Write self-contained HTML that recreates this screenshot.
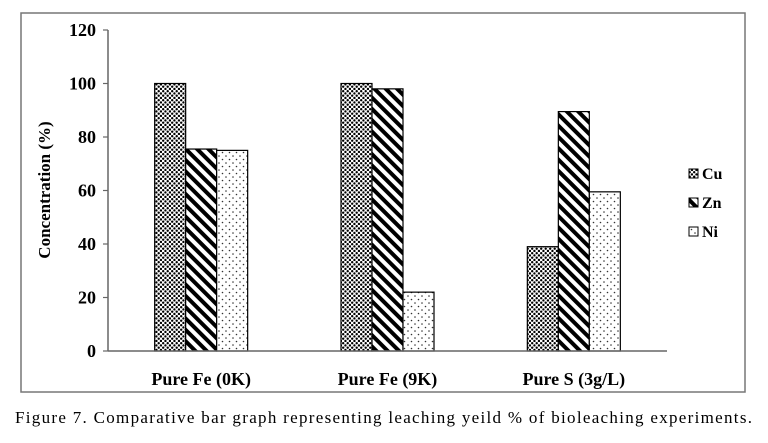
<!DOCTYPE html>
<html><head><meta charset="utf-8"><style>
body{margin:0;background:#fff;}
svg{display:block;font-family:"Liberation Serif",serif;}
</style></head><body>
<svg id="chart" width="768" height="443" viewBox="0 0 768 443">
<defs>
<pattern id="pCu" width="4.5" height="4.5" patternUnits="userSpaceOnUse">
<rect width="4.5" height="4.5" fill="#fff"/><circle cx="1.2" cy="1.2" r="1.2" fill="#000"/><circle cx="3.45" cy="3.45" r="1.2" fill="#000"/>
</pattern>
<pattern id="pZn" width="8" height="8" patternUnits="userSpaceOnUse" patternTransform="rotate(-45)">
<rect width="8" height="8" fill="#fff"/><rect width="4" height="8" fill="#000"/>
</pattern>
<pattern id="pNi" width="7" height="7" patternUnits="userSpaceOnUse">
<rect width="7" height="7" fill="#fff"/><circle cx="2" cy="2" r="0.8" fill="#333"/><circle cx="5.5" cy="5.5" r="0.8" fill="#333"/>
</pattern>
</defs>
<rect x="21" y="13" width="724" height="379" fill="#fff" stroke="#777" stroke-width="1.5"/>
<g id="plot"></g>
<text x="50" y="190" transform="rotate(-90 50 190)" text-anchor="middle" font-size="17" font-weight="bold">Concentration  (%)</text>
<g>
<g><rect x="689" y="169" width="9" height="9" fill="url(#pCu)" stroke="#000"/><text x="702" y="179" font-size="16" font-weight="bold">Cu</text></g>
<g><rect x="689" y="198" width="9" height="9" fill="url(#pZn)" stroke="#000"/><text x="702" y="208" font-size="16" font-weight="bold">Zn</text></g>
<g><rect x="689" y="227" width="9" height="9" fill="url(#pNi)" stroke="#000"/><text x="702" y="237" font-size="16" font-weight="bold">Ni</text></g>
</g>
<text x="15" y="423" font-size="17" textLength="737" lengthAdjust="spacing">Figure 7. Comparative bar graph representing leaching  yeild % of bioleaching experiments.</text>
</svg>
<script>
const categories=["Pure Fe (0K)","Pure Fe (9K)","Pure S (3g/L)"];
const seriesNames=["Cu","Zn","Ni"];
const cuValues=[100,100,39];
const znValues=[75.5,98,89.5];
const niValues=[75,22,59.5];
const yTicks=[0,20,40,60,80,100,120];
const series=[cuValues,znValues,niValues];
const fills=["url(#pCu)","url(#pZn)","url(#pNi)"];
const X0=108,X1=667,Y0=351,Y1=30,YMAX=120;
const y=v=>Y0-(v/YMAX)*(Y0-Y1);
const bandW=(X1-X0)/categories.length;
const xc=i=>X0+bandW*(i+0.5);
const barW=31;
const g=document.getElementById('plot');
const NS="http://www.w3.org/2000/svg";
function mk(t,a){const e=document.createElementNS(NS,t);for(const k in a)e.setAttribute(k,a[k]);g.appendChild(e);return e;}
series.forEach((vals,s)=>{vals.forEach((v,i)=>{
const r=mk('rect',{x:xc(i)-1.5*barW+s*barW,y:y(v),width:barW,height:Y0-y(v),fill:fills[s],stroke:'#000','stroke-width':1.2});


});});
const ya=mk('line',{x1:X0,y1:Y0,x2:X0,y2:Y1,stroke:'#666','stroke-width':1.5});


const xa=mk('line',{x1:X0,y1:Y0,x2:X1,y2:Y0,stroke:'#666','stroke-width':1.5});


yTicks.forEach(t=>{
mk('line',{x1:X0-5,y1:y(t),x2:X0,y2:y(t),stroke:'#666','stroke-width':1.2});
const tx=mk('text',{x:X0-12,y:y(t)+6,'text-anchor':'end','font-size':18,'font-weight':'bold'});
tx.textContent=t;


});
categories.forEach((c,i)=>{
const tx=mk('text',{x:xc(i),y:385,'text-anchor':'middle','font-size':18,'font-weight':'bold'});
tx.textContent=c;


});
</script>
</body></html>
